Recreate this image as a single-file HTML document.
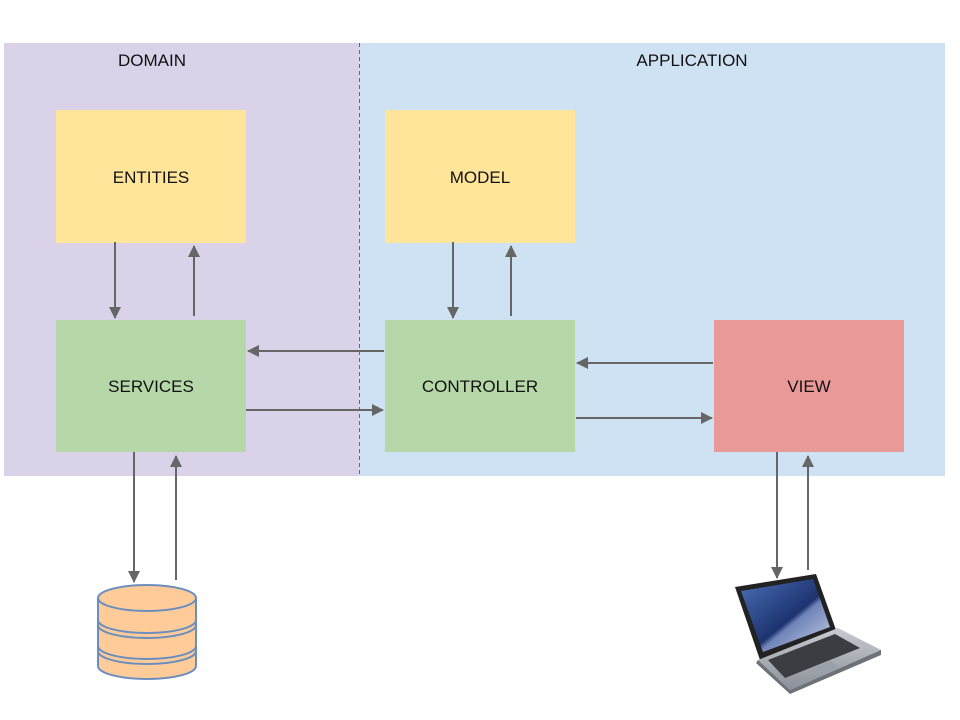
<!DOCTYPE html>
<html><head><meta charset="utf-8"><style>
html,body{margin:0;padding:0;background:#fff;}
svg{display:block;}
text{font-family:"Liberation Sans",sans-serif;font-size:17px;fill:#111;}
</style></head><body>
<svg width="960" height="720" viewBox="0 0 960 720" xmlns="http://www.w3.org/2000/svg">
<defs>
<marker id="a" markerWidth="14" markerHeight="12" refX="11" refY="6" orient="auto" markerUnits="userSpaceOnUse">
<path d="M0,0 L12,6 L0,12 z" fill="#666"/></marker>
<linearGradient id="scr" x1="0" y1="0" x2="1" y2="1">
<stop offset="0" stop-color="#4a6fb5"/><stop offset="0.55" stop-color="#1d3370"/><stop offset="0.6" stop-color="#6f84b8"/><stop offset="1" stop-color="#c9d3e8"/></linearGradient>
<linearGradient id="base" x1="0" y1="0" x2="0" y2="1">
<stop offset="0" stop-color="#c8ccd2"/><stop offset="1" stop-color="#8b9098"/></linearGradient>
</defs>
<rect x="4" y="43" width="355" height="433" fill="#d9d2e9"/>
<rect x="359" y="43" width="586" height="433" fill="#cfe2f3"/>
<line x1="359.5" y1="43" x2="359.5" y2="476" stroke="#7a5a7a" stroke-width="1" stroke-dasharray="4,3"/>
<text x="152" y="66" text-anchor="middle">DOMAIN</text>
<text x="692" y="66" text-anchor="middle">APPLICATION</text>

<rect x="56" y="110" width="190" height="133" fill="#ffe599"/>
<text x="151" y="183" text-anchor="middle">ENTITIES</text>
<rect x="385" y="110" width="190" height="133" fill="#ffe599"/>
<text x="480" y="183" text-anchor="middle">MODEL</text>
<rect x="56" y="320" width="190" height="132" fill="#b6d7a8"/>
<text x="151" y="392" text-anchor="middle">SERVICES</text>
<rect x="385" y="320" width="190" height="132" fill="#b6d7a8"/>
<text x="480" y="392" text-anchor="middle">CONTROLLER</text>
<rect x="714" y="320" width="190" height="132" fill="#ea9999"/>
<text x="809" y="392" text-anchor="middle">VIEW</text>

<g stroke="#666" stroke-width="2" fill="none" marker-end="url(#a)">
<line x1="115" y1="242" x2="115" y2="318"/>
<line x1="194" y1="316" x2="194" y2="246"/>
<line x1="453" y1="242" x2="453" y2="318"/>
<line x1="511" y1="316" x2="511" y2="246"/>
<line x1="384" y1="351" x2="248" y2="351"/>
<line x1="246" y1="410" x2="383" y2="410"/>
<line x1="713" y1="363" x2="577" y2="363"/>
<line x1="576" y1="418" x2="712" y2="418"/>
<line x1="134" y1="452" x2="134" y2="582"/>
<line x1="176" y1="580" x2="176" y2="456"/>
<line x1="777" y1="452" x2="777" y2="578"/>
<line x1="808" y1="570" x2="808" y2="456"/>
</g>

<g stroke="#6c8ebf" stroke-width="2" fill="#ffcc99">
<path d="M98,598 L98,666 A49,13 0 0 0 196,666 L196,598"/>
<path d="M98,620 A49,13 0 0 0 196,620" fill="none"/>
<path d="M98,625 A49,13 0 0 0 196,625" fill="none"/>
<path d="M98,646 A49,13 0 0 0 196,646" fill="none"/>
<path d="M98,651 A49,13 0 0 0 196,651" fill="none"/>
<ellipse cx="147" cy="598" rx="49" ry="13"/>
</g>

<g>
<path d="M735,587 L816,574 L836,630 L760,660 Z" fill="#222"/>
<path d="M741,591 L813,579 L830,627 L763,652 Z" fill="url(#scr)"/>
<path d="M758,660 L838,628 L881,650 L790,690 Z" fill="url(#base)"/>
<path d="M768,660 L835,634 L860,648 L785,678 Z" fill="#3a3d42"/>
<path d="M812,669 L830,661 L840,667 L822,675 Z" fill="#9aa0a8"/>
<path d="M758,660 L790,690 L881,650 L881,655 L790,694 L756,663 Z" fill="#6d7178"/>
</g>
</svg>
</body></html>
